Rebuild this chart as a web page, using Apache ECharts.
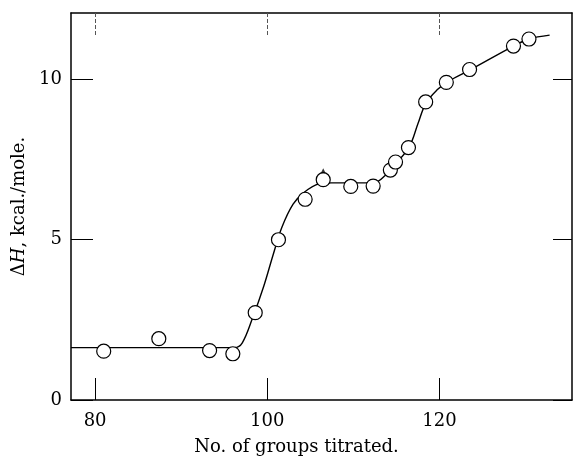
<!DOCTYPE html>
<html>
<head>
<meta charset="utf-8">
<script src="https://cdn.jsdelivr.net/npm/echarts@6/dist/echarts.min.js"></script>
<style>
html,body{margin:0;padding:0;background:#fff;}
#chart{width:575px;height:458px;}
</style>
</head>
<body>
<div id="chart"></div>
<script>
// Observed points (open circles)
var groupsTitrated = [81.0, 87.4, 93.3, 96.0, 98.6, 101.3, 104.4, 106.5, 109.7, 112.3, 114.3, 114.9, 116.4, 118.4, 120.8, 123.5, 128.6, 130.4];
var deltaH = [1.52, 1.91, 1.54, 1.44, 2.72, 4.99, 6.25, 6.86, 6.65, 6.66, 7.16, 7.41, 7.86, 9.28, 9.89, 10.29, 11.02, 11.24];

// Drawn smooth curve
var curveX = [77.2, 86.0, 96.2, 97.1, 98.3, 99.6, 100.7, 101.7, 103.0, 104.3, 106.0, 107.5, 112.4, 113.7, 114.9, 116.5, 117.5, 118.4, 119.7, 120.9, 123.5, 128.6, 130.4, 132.8];
var curveY = [1.63, 1.63, 1.63, 1.78, 2.56, 3.55, 4.54, 5.38, 6.10, 6.47, 6.73, 6.76, 6.76, 6.99, 7.35, 7.88, 8.60, 9.23, 9.65, 9.90, 10.27, 11.02, 11.24, 11.36];

// Ticks
var xTicks = [80, 100, 120];
var yTicks = [0, 5, 10];

// Marked point (small arrow above it)
var markedIndex = 7;

var FONT = 'DejaVu Serif';

var scatterData = groupsTitrated.map(function (x, i) { return [x, deltaH[i]]; });
var curveData = curveX.map(function (x, i) { return [x, curveY[i]]; });

var chart = echarts.init(document.getElementById('chart'), null, { renderer: 'canvas' });

function frameLine() { return { show: true, onZero: false, lineStyle: { color: '#000', width: 1.5 } }; }

chart.setOption({
  animation: false,
  backgroundColor: '#fff',
  grid: { left: 71, right: 3, top: 13, bottom: 58, containLabel: false, outerBoundsMode: 'none' },
  xAxis: [
    {
      type: 'value', position: 'bottom', min: 77.2, max: 135.4,
      axisLine: frameLine(),
      axisTick: { show: true, inside: true, length: 22, customValues: xTicks, lineStyle: { color: '#000', width: 1 } },
      axisLabel: { show: true, customValues: xTicks, margin: 12, color: '#000', fontFamily: FONT, fontSize: 18 },
      splitLine: { show: false },
      name: 'No. of groups titrated.', nameLocation: 'middle', nameGap: 38,
      nameTextStyle: { color: '#000', fontFamily: FONT, fontSize: 18, padding: [0, 50, 0, 0] }
    },
    {
      type: 'value', position: 'top', min: 77.2, max: 135.4,
      axisLine: frameLine(),
      axisTick: { show: true, inside: true, length: 22, customValues: xTicks, lineStyle: { color: '#555', width: 1, type: [4, 2] } },
      axisLabel: { show: false },
      splitLine: { show: false }
    }
  ],
  yAxis: [
    {
      type: 'value', position: 'left', min: 0, max: 12.05,
      axisLine: frameLine(),
      axisTick: { show: true, inside: true, length: 22, customValues: yTicks, lineStyle: { color: '#000', width: 1 } },
      axisLabel: { show: true, customValues: yTicks, margin: 9, color: '#000', fontFamily: FONT, fontSize: 18 },
      splitLine: { show: false },
      name: '{d|Δ}{h|H}{d|, kcal./mole.}', nameLocation: 'middle', nameGap: 37,
      nameTextStyle: {
        color: '#000', fontFamily: FONT, fontSize: 18,
        rich: {
          d: { fontFamily: FONT, fontSize: 18, color: '#000' },
          h: { fontFamily: FONT, fontSize: 18, fontStyle: 'italic', color: '#000' }
        }
      }
    },
    {
      type: 'value', position: 'right', min: 0, max: 12.05,
      axisLine: frameLine(),
      axisTick: { show: true, inside: true, length: 19, customValues: yTicks, lineStyle: { color: '#000', width: 1 } },
      axisLabel: { show: false },
      splitLine: { show: false }
    }
  ],
  series: [
    {
      type: 'line', xAxisIndex: 0, yAxisIndex: 0,
      data: curveData, smooth: 0.35, showSymbol: false, symbol: 'none',
      lineStyle: { color: '#000', width: 1.4 }, z: 2, silent: true
    },
    {
      type: 'scatter', xAxisIndex: 0, yAxisIndex: 0,
      data: scatterData, symbol: 'circle', symbolSize: 14,
      itemStyle: { color: '#fff', borderColor: '#000', borderWidth: 1.2, opacity: 1 },
      z: 3, silent: true
    },
    {
      type: 'scatter', xAxisIndex: 0, yAxisIndex: 0,
      data: [scatterData[markedIndex]], symbol: 'triangle', symbolSize: [5, 5], symbolOffset: [0, -9],
      itemStyle: { color: '#000' }, z: 4, silent: true
    }
  ]
});
</script>
</body>
</html>
